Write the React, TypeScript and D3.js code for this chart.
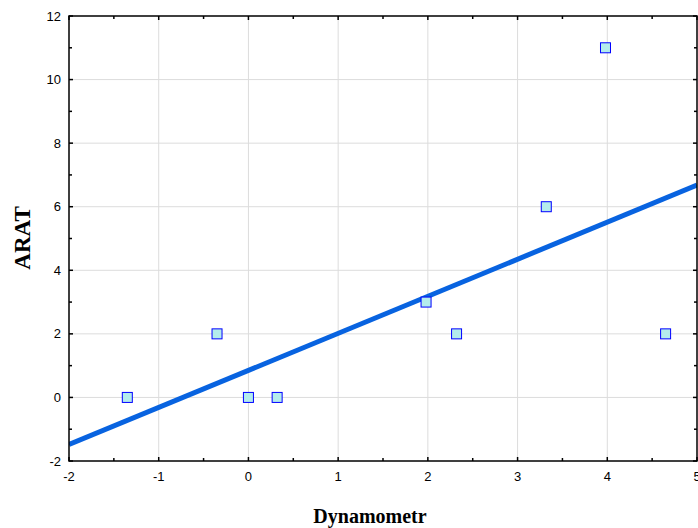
import React from 'react';
import { scaleLinear, line, range } from 'd3';

const dynamometr = [-1.35, -0.35, 0, 0.32, 1.98, 2.32, 3.32, 3.98, 4.65];
const arat = [0, 2, 0, 0, 3, 2, 6, 11, 2];
const xTicks = [-2, -1, 0, 1, 2, 3, 4, 5];
const yTicks = [-2, 0, 2, 4, 6, 8, 10, 12];
// fitted line as drawn in the original
const fitIntercept = 0.85;
const fitSlope = 1.166;

const W = 698;
const H = 528;
const left = 69;
const right = 697;
const top = 16;
const bottom = 461;

const App = () => {
  const x = scaleLinear().domain([-2, 5]).range([left, right]);
  const y = scaleLinear().domain([-2, 12]).range([bottom, top]);
  const regLine = line<number>()
    .x((d) => x(d))
    .y((d) => y(fitIntercept + fitSlope * d));

  const xMinor = range(-2, 5.01, 0.5);
  const yMinor = range(-2, 12.01, 1);

  return (
    <svg
      width={W}
      height={H}
      style={{ position: 'absolute', left: 0, top: 0, background: '#fff' }}
    >
      <defs>
        <clipPath id="plot">
          <rect x={left} y={top} width={right - left} height={bottom - top} />
        </clipPath>
      </defs>
      {/* grid */}
      {xTicks.slice(1, -1).map((t) => (
        <line key={'gx' + t} x1={x(t)} x2={x(t)} y1={top} y2={bottom} stroke="#dcdcdc" strokeWidth={1} />
      ))}
      {yTicks.slice(1, -1).map((t) => (
        <line key={'gy' + t} x1={left} x2={right} y1={y(t)} y2={y(t)} stroke="#dcdcdc" strokeWidth={1} />
      ))}
      {/* regression line */}
      <path
        d={regLine([-2, 5]) || ''}
        stroke="#0863e0"
        strokeWidth={5}
        fill="none"
        clipPath="url(#plot)"
      />
      {/* points */}
      {dynamometr.map((d, i) => (
        <rect
          key={i}
          x={x(d) - 5}
          y={y(arat[i]) - 5}
          width={10}
          height={10}
          fill="#b4ecec"
          stroke="#0000ff"
          strokeWidth={1}
        />
      ))}
      {/* frame */}
      <rect x={left} y={top} width={right - left} height={bottom - top} fill="none" stroke="#000" strokeWidth={1.5} />
      {/* ticks inward */}
      {xMinor.map((t, i) => (
        <g key={'tx' + i}>
          <line x1={x(t)} x2={x(t)} y1={bottom} y2={bottom - (i % 2 === 0 ? 4 : 3)} stroke="#000" strokeWidth={1.5} />
          <line x1={x(t)} x2={x(t)} y1={top} y2={top + (i % 2 === 0 ? 4 : 3)} stroke="#000" strokeWidth={1.5} />
        </g>
      ))}
      {yMinor.map((t, i) => (
        <g key={'ty' + i}>
          <line x1={left} x2={left + (i % 2 === 0 ? 4 : 3)} y1={y(t)} y2={y(t)} stroke="#000" strokeWidth={1.5} />
          <line x1={right} x2={right - (i % 2 === 0 ? 4 : 3)} y1={y(t)} y2={y(t)} stroke="#000" strokeWidth={1.5} />
        </g>
      ))}
      {/* tick labels */}
      {xTicks.map((t) => (
        <text key={'lx' + t} x={x(t)} y={bottom + 20} textAnchor="middle" fontFamily="Liberation Sans, Arial, sans-serif" fontSize={13}>
          {t}
        </text>
      ))}
      {yTicks.map((t) => (
        <text key={'ly' + t} x={left - 8} y={y(t) + 4.5} textAnchor="end" fontFamily="Liberation Sans, Arial, sans-serif" fontSize={13}>
          {t}
        </text>
      ))}
      {/* axis titles */}
      <text x={370} y={523} textAnchor="middle" fontFamily="Liberation Serif, Times New Roman, serif" fontWeight="bold" fontSize={20}>
        Dynamometr
      </text>
      <text
        transform={`translate(30, 238) rotate(-90)`}
        textAnchor="middle"
        fontFamily="Liberation Serif, Times New Roman, serif"
        fontWeight="bold"
        fontSize={23}
      >
        ARAT
      </text>
    </svg>
  );
};

export default App;
